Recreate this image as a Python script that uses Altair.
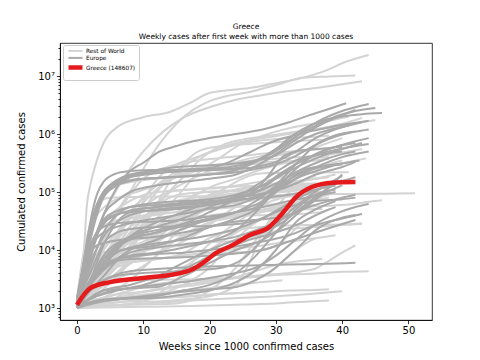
import altair as alt
import pandas as pd

GROUPS = ["Rest of World", "Europe", "Greece (148607)"]
COLORS = ["#d3d3d3", "#a9a9a9", "#e41a1c"]
WIDTHS = [2.0, 2.0, 4.5]

X_TICKS = [0, 10, 20, 30, 40, 50]
Y_MAJOR = [1e3, 1e4, 1e5, 1e6, 1e7]

# [week, cumulated cases]
WORLD = [
    [[0,1100],[1,8000],[1.5,60000],[2,130000],[3,350000],[4,700000],[6,1300000],[10,1950000],[14,2400000],[17,3400000],[20,5100000],[26,6200000],[30,7500000],[34,9300000],[38,13000000],[40,16600000],[44,23000000]],
    [[0,1200],[2,4000],[4,15000],[6,45000],[8,100000],[10,250000],[12.5,690000],[15,1500000],[17.5,2600000],[20,3700000],[23,4600000],[26,5300000],[30,7000000],[34,9300000],[38,9800000],[42,10200000]],
    [[0,1500],[2,10000],[4,40000],[6,110000],[8,250000],[10,500000],[13,1100000],[16,1900000],[20,2900000],[24,3900000],[28,4700000],[32,5500000],[36,6200000],[40,7200000],[43,8100000]],
    [[0,1100],[2,2000],[4,3500],[6,6000],[8,10000],[10,20000],[12,35000],[14,60000],[16,110000],[18,200000],[20,300000],[22,420000],[24,600000],[27,850000],[30,1100000],[34,1400000],[37,1600000],[41,2000000]],
    [[0,1100],[2,2500],[4,5000],[6,9000],[8,18000],[10,35000],[13,80000],[16,180000],[19,400000],[22,650000],[25,800000],[28,900000],[32,1050000],[36,1200000],[40,1400000],[43,1600000],[45,1750000]],
    [[0,1200],[2,3000],[4,7000],[6,18000],[8,40000],[10,80000],[12,130000],[15,230000],[18,380000],[21,550000],[24,700000],[28,850000],[32,1000000],[36,1200000],[40,1500000],[43,1900000]],
    [[0,1100],[2,4000],[4,14000],[6,40000],[8,90000],[10,170000],[12,230000],[15,300000],[18,400000],[21,520000],[24,650000],[28,780000],[32,850000],[36,900000],[38,930000]],
    [[0,1200],[2,1800],[4,3000],[6,6000],[8,12000],[10,25000],[12,60000],[14,150000],[16,300000],[18,480000],[20,580000],[24,650000],[28,700000],[32,750000],[37,800000]],
    [[0,1100],[2,2500],[4,6000],[6,12000],[8,25000],[10,70000],[12,160000],[14,260000],[17,330000],[20,370000],[25,420000],[30,480000],[34,520000],[38,560000]],
    [[0,1500],[1,9000],[2,25000],[3,40000],[5,65000],[7,85000],[9,100000],[12,130000],[15,180000],[18,230000],[22,280000],[26,340000],[30,420000],[34,500000],[37,650000],[40,850000]],
    [[0,1100],[2,2000],[4,5000],[6,15000],[8,35000],[10,65000],[12,110000],[14,160000],[17,230000],[20,280000],[24,310000],[28,330000],[32,340000],[36,350000]],
    [[0,1200],[2,3500],[4,6000],[6,11000],[8,25000],[10,50000],[12,100000],[14,170000],[16,230000],[18,260000],[22,280000],[26,300000],[30,310000],[34,330000],[38,380000]],
    [[0,1200],[1,4000],[2,10000],[3,20000],[5,40000],[7,60000],[9,80000],[11,95000],[14,105000],[18,112000],[22,120000],[26,140000],[30,170000],[34,220000],[38,280000],[41,330000],[43.6,380000]],
    [[0,1300],[2,2500],[4,6000],[6,10000],[8,16000],[10,25000],[12,35000],[14,50000],[16,70000],[18,90000],[20,120000],[24,170000],[28,250000],[32,330000],[36,400000],[40,480000],[43,550000]],
    [[0,1200],[2,5000],[4,11000],[6,15000],[8,16000],[10,17000],[12,19000],[14,25000],[16,45000],[18,70000],[20,90000],[22,110000],[24,150000],[26,190000],[28,210000],[32,215000],[36,218000],[41,220000]],
    [[0,1200],[1,7000],[2,20000],[3,50000],[4,90000],[5,120000],[7,140000],[9,155000],[12,170000],[16,190000],[20,210000],[24,240000],[28,280000],[32,330000],[36,390000],[38,400000]],
    [[0,1200],[2,4000],[4,10000],[6,20000],[8,45000],[10,80000],[12,130000],[14,180000],[17,230000],[20,280000],[24,320000],[28,360000],[32,390000],[35,410000]],
    [[0,1100],[2,1800],[4,3000],[6,5000],[8,10000],[10,25000],[12,55000],[14,100000],[17,160000],[20,230000],[24,330000],[28,420000],[32,480000],[35,520000]],
    [[0,1100],[2,2500],[4,4000],[6,8000],[8,15000],[10,30000],[12,55000],[14,80000],[17,95000],[20,100000],[24,103000],[28,106000],[32,110000],[36,115000]],
    [[0,1100],[2,2500],[4,7000],[6,16000],[8,35000],[10,55000],[12,80000],[14,100000],[17,110000],[20,117000],[24,124000],[28,130000],[32,135000],[36,140000]],
    [[0,1000],[2,2500],[4,8000],[6,15000],[8,25000],[10,35000],[13,45000],[16,55000],[20,65000],[24,80000],[28,110000],[32,140000],[36,170000],[39,200000]],
    [[0,1100],[2,2000],[4,5000],[6,10000],[8,20000],[10,35000],[13,50000],[16,65000],[20,78000],[24,90000],[28,105000],[32,120000],[35,135000]],
    [[0,1100],[2,2500],[4,4000],[6,5500],[8,7000],[10,8000],[13,10000],[16,14000],[19,22000],[22,40000],[25,65000],[28,100000],[31,140000],[34,200000],[37,280000],[40,350000]],
    [[0,1000],[1,3000],[2,7000],[3,20000],[5,30000],[8,35000],[12,45000],[16,60000],[20,85000],[24,110000],[28,130000],[32,150000],[36,170000],[38,180000]],
    [[0,1100],[2,2000],[4,5000],[6,8000],[10,12000],[14,20000],[18,40000],[22,70000],[26,90000],[30,110000],[34,120000],[38,130000]],
    [[0,1000],[3,2000],[6,4000],[9,8000],[12,18000],[15,35000],[18,60000],[21,90000],[24,110000],[28,125000],[32,135000],[36,140000]],
    [[0,1100],[2,2000],[4,3500],[6,6000],[8,8000],[10,10000],[13,16000],[16,30000],[19,50000],[22,70000],[25,90000],[28,105000],[32,120000],[36,135000],[39,150000]],
    [[0,1000],[3,1700],[6,3500],[9,8000],[12,18000],[15,35000],[18,55000],[21,70000],[25,85000],[29,95000],[33,105000],[36,112000]],
    [[0,1200],[2,2500],[4,4500],[6,7000],[8,10000],[10,12000],[13,20000],[15,40000],[17,80000],[19,100000],[22,105000],[26,108000],[30,112000],[34,120000],[37,130000]],
    [[0,1100],[2,2500],[4,5000],[6,9000],[8,14000],[10,20000],[13,30000],[16,40000],[20,50000],[24,55000],[28,60000],[32,63000],[35,65000]],
    [[0,1000],[4,1500],[8,3000],[12,8000],[16,18000],[20,30000],[24,37000],[28,45000],[32,60000],[35,75000],[37,82000]],
    [[0,1000],[3,2000],[6,4000],[9,7000],[12,15000],[15,30000],[18,55000],[21,75000],[25,90000],[29,100000],[32,105000]],
    [[0,1200],[2,2500],[4,4000],[6,6000],[8,8000],[12,11000],[16,17000],[20,30000],[24,40000],[28,50000],[32,60000],[36,80000],[38,90000]],
    [[0,1000],[2,1500],[4,4000],[6,8000],[10,14000],[14,25000],[18,35000],[22,42000],[26,46000],[30,48000],[34,50000],[37,51000]],
    [[0,1000],[1,2000],[2,3000],[4,4500],[6,5700],[10,6500],[14,7500],[18,8500],[22,9000],[26,9300],[28,10000],[30,12000],[32,18000],[34,30000],[36,40000],[38,50000]],
    [[0,1100],[2,3000],[4,10000],[6,20000],[8,30000],[10,37000],[13,42000],[16,47000],[20,55000],[24,57000],[28,57500],[32,58000],[36,58200]],
    [[0,1000],[3,1400],[6,1700],[10,1900],[14,2200],[18,2500],[22,3000],[26,4000],[30,5500],[34,6500],[37,7000]],
    [[0,1000],[5,1100],[10,1300],[13,2000],[16,4000],[19,10000],[22,20000],[25,35000],[28,60000],[31,80000],[34,100000],[36,115000]],
    [[0,1100],[2,2000],[4,2700],[6,2900],[10,3000],[15,3100],[20,3200],[25,3400],[30,3700],[35,3900],[40,4200],[44,4300]],
    [[0,1000],[10,1050],[20,1100],[25,1150],[30,1200],[35,1300],[38,1350]],
    [[0,1000],[4,1500],[8,2000],[12,2600],[16,2900],[20,3000],[24,3300],[28,3500],[30,5000],[32,8000],[34,12000],[36,16000]],
    [[0,1100],[4,1300],[8,1500],[12,1700],[16,2500],[20,5000],[22,9000],[24,15000],[26,25000],[28,35000],[30,45000],[33,60000],[36,80000],[38,95000]],
    [[0,1100],[4,1200],[8,1300],[12,1300],[16,1400],[20,1600],[24,2500],[26,6000],[28,20000],[30,50000],[32,100000],[34,150000],[36,190000]],
    [[0,1000],[5,1100],[10,1150],[15,1200],[20,2000],[24,5000],[27,15000],[30,40000],[33,65000],[36,90000],[38,100000]],
    [[0,1000],[4,1200],[8,2000],[12,3000],[16,5000],[20,10000],[24,20000],[28,35000],[32,55000],[35,70000],[38,80000]],
    [[0,1000],[3,2000],[6,4000],[9,9000],[12,20000],[15,35000],[18,50000],[22,65000],[26,75000],[30,85000],[33,95000],[37,100000]],
    [[0,1100],[2,2000],[4,4000],[6,9000],[8,17000],[10,27000],[12,33000],[14,36000],[18,38000],[22,39000],[26,39500],[30,40000],[34,42000],[37,45000]],
    [[0,1000],[3,2000],[6,3200],[9,4500],[12,8000],[15,20000],[18,35000],[21,40000],[25,45000],[29,48000],[33,55000],[36,60000]],
    [[0,1100],[2,2000],[4,4000],[6,8000],[8,20000],[10,35000],[12,50000],[15,70000],[18,80000],[22,90000],[26,100000],[30,110000],[33,115000]],
    [[0,1100],[2,2000],[4,3500],[6,6000],[8,12000],[10,20000],[12,30000],[15,40000],[18,48000],[22,60000],[26,70000],[30,80000],[33,85000]],
    [[0,1300],[1,8000],[2,28000],[3,60000],[4,75000],[5,80000],[8,82000],[15,84000],[25,85000],[30,88000],[35,91000],[40,92000],[45,93000],[51,95000]],
    [[0,1200],[1,5000],[2,7500],[3,8500],[5,9500],[8,10500],[12,11000],[16,12000],[20,13500],[24,14500],[28,19000],[32,23000],[36,25000],[40,27000],[43,29000]],
    [[0,1100],[3,2500],[5,5000],[7,11000],[9,15000],[13,17000],[17,19000],[19,25000],[21,33000],[23,40000],[26,45000],[30,50000],[34,55000],[38,58000],[42,63000],[44,68000],[46,72000]],
    [[0,1100],[2,2000],[4,3500],[6,5000],[8,6000],[12,7000],[16,8000],[20,9000],[24,10500],[28,12000],[32,14000],[36,16000],[39,18000]],
    [[0,1000],[4,1300],[8,1700],[12,2100],[16,2500],[20,2900],[24,3300],[28,3700],[32,4000],[34,4300],[36,4800],[38,6500],[40,9000],[42,12000]],
    [[0,1000],[5,1100],[10,1200],[15,1300],[20,1400],[25,1500],[30,1600],[35,1750],[40,1950]],
    [[0,1000],[4,1300],[8,1600],[12,1800],[16,2000],[20,2200],[24,2500],[28,2800],[31,3000]],
    [[0,1000],[5,1200],[10,1400],[15,1550],[20,1700],[27,1900]],
    [[0,1100],[1,2500],[2,4500],[3,5500],[5,6500],[8,7000],[12,7200],[15,8000],[17,10000],[19,14000],[21,18000],[24,22000],[28,25000],[32,26500],[36,27000],[40,27500],[43,28000]],
    [[0,1100],[2,1400],[4,1450],[8,1500],[12,1500],[16,1550],[20,1700],[24,1800],[28,1900],[32,2000],[36,2050],[38,2100]],
]

EUROPE = [
    [[0,1200],[2,7000],[4,40000],[6,120000],[8,230000],[10,320000],[12.5,500000],[15,620000],[17.5,750000],[20,850000],[24,1000000],[28,1200000],[32,1600000],[35,2100000],[38,2700000],[40.6,3400000]],
    [[0,1100],[1,4000],[2,15000],[3,45000],[4,85000],[6,130000],[8,155000],[12,175000],[16,185000],[20,200000],[24,240000],[27,330000],[30,550000],[32,850000],[34,1200000],[37,1700000],[40,2000000],[43,2200000],[46,2300000]],
    [[0,1500],[1,6000],[2,25000],[3,60000],[4,100000],[6,160000],[8,200000],[12,230000],[16,240000],[20,250000],[24,280000],[27,350000],[30,550000],[33,900000],[36,1400000],[39,2000000],[42,2500000],[45,2800000]],
    [[0,1200],[1,5000],[2,20000],[3,50000],[4,90000],[6,150000],[8,180000],[12,210000],[16,230000],[20,240000],[24,260000],[26,300000],[28,380000],[31,600000],[34,1100000],[37,1800000],[40,2500000],[42,2900000],[44,3300000]],
    [[0,1000],[1,3000],[2,8000],[3,20000],[4,40000],[6,70000],[8,100000],[12,130000],[16,150000],[20,170000],[24,200000],[27,280000],[30,450000],[33,800000],[36,1300000],[39,1900000],[42,2600000]],
    [[0,1200],[1,3500],[2,9000],[3,18000],[4,28000],[6,40000],[8,48000],[12,55000],[16,60000],[20,65000],[24,75000],[27,100000],[30,170000],[33,300000],[36,450000],[39,600000],[42,750000],[44,850000]],
    [[0,1100],[2,5000],[4,20000],[6,40000],[8,55000],[12,65000],[16,70000],[20,75000],[24,90000],[28,130000],[31,220000],[34,350000],[37,470000],[40,560000],[44,670000]],
    [[0,1000],[2,3000],[4,8000],[6,13000],[8,17000],[12,22000],[16,28000],[20,35000],[24,45000],[28,70000],[31,120000],[34,200000],[37,300000],[40,400000],[44,500000]],
    [[0,1300],[2,6000],[4,17000],[6,30000],[8,40000],[12,50000],[16,55000],[20,60000],[24,70000],[28,90000],[31,130000],[34,190000],[37,250000],[40,310000],[42.6,350000]],
    [[0,1100],[2,3000],[4,6000],[6,9000],[8,11000],[12,13000],[16,15000],[20,18000],[24,23000],[28,35000],[31,55000],[34,85000],[37,120000],[40,155000],[42,180000]],
    [[0,1000],[2,3000],[4,5000],[6,7000],[8,8000],[12,9000],[16,11000],[20,14000],[24,22000],[27,45000],[30,110000],[33,250000],[36,450000],[39,600000],[42,700000]],
    [[0,1100],[2,2500],[4,6000],[6,11000],[8,15000],[12,20000],[16,26000],[20,33000],[24,45000],[27,70000],[30,130000],[33,300000],[36,650000],[39,950000],[42,1100000]],
    [[0,1000],[2,2500],[4,6000],[6,11000],[8,17000],[12,25000],[16,35000],[20,55000],[24,85000],[28,130000],[31,200000],[34,300000],[37,420000],[40,550000],[43,700000]],
    [[0,1200],[1,3500],[2,10000],[3,20000],[4,33000],[6,47000],[8,55000],[12,60000],[16,63000],[20,66000],[24,80000],[27,110000],[29,200000],[31,400000],[33,500000],[36,550000],[40,600000]],
    [[0,1100],[1,3500],[2,10000],[3,20000],[4,30000],[6,42000],[8,45000],[12,48000],[16,52000],[20,60000],[24,80000],[27,130000],[30,220000],[33,350000],[36,430000],[40,500000]],
    [[0,1300],[1,4000],[2,12000],[3,20000],[4,25000],[6,29000],[8,30000],[12,31000],[16,33000],[20,38000],[24,45000],[27,55000],[29,90000],[31,150000],[33,220000],[36,270000],[40,300000]],
    [[0,1200],[1,5000],[2,10000],[3,16000],[4,20000],[6,25000],[8,29000],[12,35000],[16,42000],[20,52000],[24,60000],[27,80000],[30,120000],[33,190000],[36,260000],[40,300000]],
    [[0,1100],[2,2500],[4,5000],[6,10000],[8,17000],[12,30000],[16,45000],[20,65000],[24,80000],[27,90000],[30,105000],[33,140000],[36,200000],[40,270000],[42,330000]],
    [[0,1300],[1,5000],[2,9000],[3,12000],[5,14000],[8,15500],[12,17000],[16,20000],[20,25000],[24,35000],[27,50000],[30,100000],[33,200000],[36,260000],[40,310000]],
    [[0,1100],[2,3000],[4,7000],[6,12000],[8,16000],[12,20000],[16,28000],[20,45000],[24,75000],[28,110000],[31,160000],[34,250000],[37,350000],[40,450000],[42,500000]],
    [[0,1300],[2,4000],[4,13000],[6,20000],[8,23000],[12,25000],[16,25500],[20,26000],[24,28000],[27,32000],[30,45000],[33,60000],[36,70000],[40,75000],[42,80000]],
    [[0,1000],[2,2000],[4,3500],[6,6500],[8,9000],[12,11000],[16,12500],[20,14000],[24,17000],[27,22000],[30,30000],[33,45000],[36,60000],[40,80000],[42,90000]],
    [[0,1100],[2,3000],[4,5500],[6,7000],[8,7600],[12,8500],[16,9000],[20,10000],[24,11500],[28,14000],[32,18000],[36,27000],[40,35000],[43,42000]],
    [[0,1100],[2,2500],[4,4500],[6,6500],[8,7000],[12,7200],[16,7500],[20,8000],[24,8700],[28,10000],[32,14000],[36,20000],[40,28000],[42,33000]],
    [[0,1200],[2,3000],[4,7000],[6,9500],[8,10500],[12,12000],[16,16000],[20,25000],[24,31000],[28,34000],[32,40000],[35,60000],[38,120000],[40,200000]],
    [[0,1000],[2,2000],[4,3000],[6,3600],[10,4000],[14,4200],[18,4500],[22,5000],[25,7000],[28,15000],[31,35000],[34,70000],[37,120000],[40,190000]],
    [[0,1100],[4,1400],[8,1500],[12,1600],[16,2000],[20,2500],[24,4000],[27,8000],[30,20000],[33,50000],[36,90000],[39,110000]],
    [[0,1000],[2,1500],[4,2000],[8,2500],[12,3500],[16,6000],[20,10000],[24,15000],[28,20000],[31,30000],[34,55000],[37,100000],[40,160000]],
    [[0,1000],[2,1500],[4,2000],[8,2200],[12,2300],[16,3500],[20,6000],[24,10000],[28,15000],[31,25000],[34,50000],[37,90000],[40,130000]],
    [[0,1000],[3,1300],[8,1450],[12,1500],[16,1700],[20,2000],[24,2800],[27,4500],[30,10000],[33,30000],[36,50000],[39,70000]],
    [[0,1100],[3,1600],[6,2000],[10,2500],[14,3500],[18,6000],[22,10000],[26,15000],[30,20000],[34,30000],[37,45000],[39,55000]],
    [[0,1000],[2,3000],[4,12000],[6,30000],[8,45000],[12,55000],[16,65000],[20,70000],[24,75000],[28,80000],[32,90000],[36,110000],[39,130000]],
    [[0,1200],[2,2500],[4,4500],[6,7000],[8,10000],[12,15000],[16,23000],[20,35000],[24,45000],[28,55000],[32,70000],[36,85000],[39,100000]],
    [[0,1200],[1,6000],[2,30000],[3,90000],[4,150000],[6,210000],[8,230000],[12,240000],[16,245000],[20,260000],[23,330000],[26,480000],[29,700000],[32,900000],[35,1100000],[38,1300000],[41,1500000],[44,1700000]],
    [[0,1100],[1,5000],[2,20000],[3,55000],[4,100000],[6,150000],[8,190000],[12,215000],[16,230000],[20,240000],[24,250000],[27,270000],[30,330000],[33,500000],[36,850000],[39,1200000],[43,1600000]],
    [[0,1300],[1,6000],[2,25000],[3,60000],[4,100000],[6,140000],[8,160000],[12,175000],[16,185000],[20,200000],[24,220000],[27,250000],[30,300000],[33,420000],[36,650000],[39,900000],[42,1100000],[44,1200000]],
    [[0,1400],[1,5000],[2,15000],[3,40000],[4,80000],[6,130000],[8,180000],[12,240000],[16,275000],[20,290000],[24,310000],[27,350000],[30,430000],[33,700000],[36,1000000],[39,1250000],[41,1400000]],
    [[0,1000],[4,1300],[8,1500],[12,1700],[16,1900],[20,2100],[24,2300],[28,3500],[30,5000],[32,8000],[34,13000],[36,22000],[38,30000],[40,36000],[42,40000]],
    [[0,1100],[4,1800],[8,2200],[12,2500],[16,2800],[20,3300],[24,4000],[27,5000],[30,8000],[33,15000],[36,28000],[39,42000],[42,55000],[44,62000]],
    [[0,1100],[2,2000],[4,3000],[6,3800],[8,4300],[12,4700],[16,5000],[20,5200],[26,5400],[32,5600],[38,5800],[42,6000]],
]

GREECE = [[0,1130],[2,2200],[5,2800],[10,3300],[14,3700],[17.5,4700],[19,6000],[21,8900],[23.5,12200],[26,18000],[29,25000],[31,43000],[33,81000],[35.5,123000],[38.5,145000],[42,148607]]

rows = []
for gi, lines in enumerate([WORLD, EUROPE, [GREECE]]):
    for li, pts in enumerate(lines):
        for w, v in pts:
            rows.append({"group": GROUPS[gi], "line": f"{gi}-{li}", "week": w, "cases": v})
df = pd.DataFrame(rows)

legend = alt.Legend(
    title=None, orient="none", legendX=3, legendY=2,
    symbolType="M-1,0H13", symbolSize=4, labelFontSize=5.8, labelFont="DejaVu Sans",
    labelColor="black", strokeColor="#cccccc", fillColor="white", cornerRadius=2,
    padding=3, labelOffset=13, rowPadding=-4,
)

minor = [m * 10 ** e for e in range(2, 8) for m in range(2, 10)]
minor = [v for v in minor if 620 < v < 3.7e7]
yvals = sorted(Y_MAJOR + minor)
lab = "datum.value==1e3?'10³':datum.value==1e4?'10⁴':datum.value==1e5?'10⁵':datum.value==1e6?'10⁶':datum.value==1e7?'10⁷':''"
major_test = "datum.value==1e3||datum.value==1e4||datum.value==1e5||datum.value==1e6||datum.value==1e7"

base = alt.Chart(df).mark_line(interpolate="monotone").encode(
    x=alt.X("week:Q", scale=alt.Scale(domain=[-2.56, 53.55], nice=False, zero=False),
            axis=alt.Axis(values=X_TICKS, title="Weeks since 1000 confirmed cases", tickSize=3.6,
                          labelPadding=2, titlePadding=6)),
    y=alt.Y("cases:Q", scale=alt.Scale(type="log", domain=[621, 3.71e7], nice=False),
            axis=alt.Axis(values=yvals, labelExpr=lab, title="Cumulated confirmed cases",
                          tickSize={"condition": {"test": major_test, "value": 3.6}, "value": 2.1},
                          labelOverlap=False, labelPadding=2, titlePadding=11)),
    detail="line:N",
    color=alt.Color("group:N", scale=alt.Scale(domain=GROUPS, range=COLORS), legend=legend),
    strokeWidth=alt.StrokeWidth("group:N", scale=alt.Scale(type="ordinal", domain=GROUPS, range=WIDTHS), legend=legend),
)

layers = [base.transform_filter(alt.datum.group == g) for g in GROUPS]

chart = alt.layer(*layers).properties(
    width=372, height=277,
    autosize=alt.AutoSizeParams(type="none"),
    padding={"left": 52, "top": 35, "right": 40, "bottom": 32},
    title=alt.TitleParams(
        text="Greece", subtitle="Weekly cases after first week with more than 1000 cases",
        fontSize=7.5, subtitleFontSize=7.5, fontWeight="normal", font="DejaVu Sans",
        subtitleFont="DejaVu Sans", color="black", subtitleColor="black",
        anchor="middle", offset=3, subtitlePadding=2,
    ),
).configure_view(stroke="black", strokeWidth=0.8).configure_axis(
    grid=False, domainColor="black", domainWidth=0.8, tickColor="black", tickWidth=0.8,
    labelColor="black", titleColor="black", labelFont="DejaVu Sans", titleFont="DejaVu Sans",
    labelFontSize=10, titleFontSize=10, titleFontWeight="normal",
)

chart.save("out.html", embed_options={"renderer": "svg", "actions": False})
